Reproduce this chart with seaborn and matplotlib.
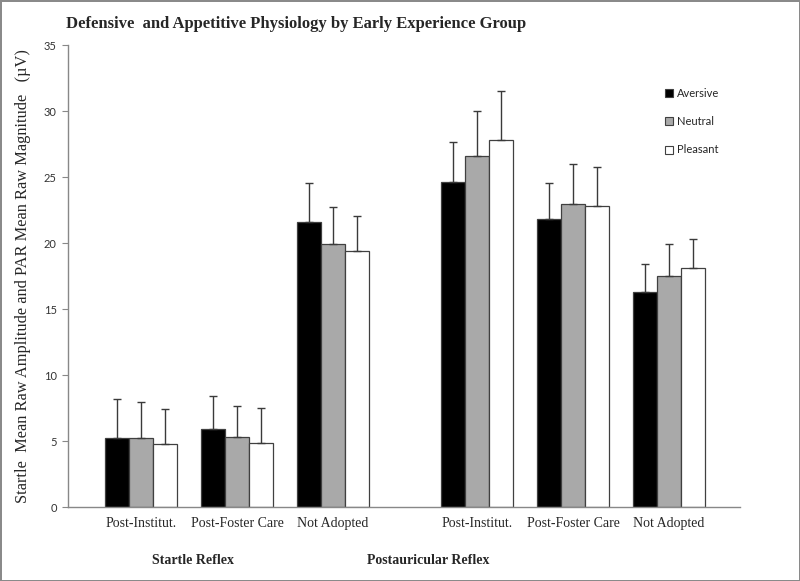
import numpy as np
import pandas as pd
import matplotlib
matplotlib.use('Agg')
import matplotlib.pyplot as plt
import seaborn as sns
from matplotlib.patches import Patch

# ---- data ----
groups = ['Post-Institut.', 'Post-Foster Care', 'Not Adopted',
          'Post-Institut.', 'Post-Foster Care', 'Not Adopted']
reflexes = ['Startle Reflex', 'Postauricular Reflex']
conditions = ['Aversive', 'Neutral', 'Pleasant']
aversive = [5.25, 5.9, 21.6, 24.6, 21.8, 16.3]
neutral = [5.2, 5.3, 19.95, 26.6, 22.95, 17.5]
pleasant = [4.75, 4.85, 19.4, 27.8, 22.8, 18.1]
aversive_err = [2.92, 2.53, 2.95, 3.06, 2.77, 2.1]
neutral_err = [2.75, 2.37, 2.8, 3.4, 3.07, 2.4]
pleasant_err = [2.67, 2.67, 2.67, 3.7, 2.93, 2.2]
y_ticks = [0, 5, 10, 15, 20, 25, 30, 35]

# ---- layout ----
group_pos = [0, 1, 2, 3.5, 4.5, 5.5]
colors = {'Aversive': '#000000', 'Neutral': '#a9a9a9', 'Pleasant': '#ffffff'}

values = {'Aversive': aversive, 'Neutral': neutral, 'Pleasant': pleasant}
errors = {'Aversive': aversive_err, 'Neutral': neutral_err, 'Pleasant': pleasant_err}
rows = []
for c in conditions:
    for i, p in enumerate(group_pos):
        rows.append({'pos': p, 'condition': c, 'value': values[c][i], 'err': errors[c][i]})
df = pd.DataFrame(rows)

sns.set_style('white')
fig = plt.figure(figsize=(8, 5.81), dpi=100)
fig.patch.set_edgecolor('#8a8a8a')
fig.patch.set_linewidth(2)
ax = fig.add_axes([68/800, 1-507/581, (740-68)/800, (507-45)/581])

sns.barplot(data=df, x='pos', y='value', hue='condition', hue_order=conditions,
            palette=colors, native_scale=True, width=0.75, errorbar=None,
            edgecolor='#404040', linewidth=0.9, legend=False, ax=ax)

# error bars (upper only) from drawn bars
bars = [p for p in ax.patches]
for c_idx, c in enumerate(conditions):
    for i in range(len(group_pos)):
        b = bars[c_idx*len(group_pos) + i]
        xc = b.get_x() + b.get_width()/2
        ax.errorbar([xc], [b.get_height()], yerr=[[0], [errors[c][i]]],
                    fmt='none', ecolor='#3a3a3a', elinewidth=1.0, capsize=3, capthick=1.0)

ax.set_xlim(-0.76, 6.24)
ax.set_ylim(0, 35)
ax.set_yticks(y_ticks)
ax.set_yticklabels([str(t) for t in y_ticks], family='Lato', fontsize=8, color='#333333')
ax.set_xticks(group_pos)
ax.set_xticklabels(groups, family='Liberation Serif', fontsize=10)
ax.tick_params(axis='x', length=0, pad=7)
ax.tick_params(axis='y', length=4, width=0.8, color='#888888', direction='out', left=True, pad=4)
ax.set_xlabel('')
ax.set_ylabel('Startle  Mean Raw Amplitude and PAR Mean Raw Magnitude   (\u00b5V)',
              family='Liberation Serif', fontsize=11.8, labelpad=9)
for s in ['top', 'right']:
    ax.spines[s].set_visible(False)
for s in ['left', 'bottom']:
    ax.spines[s].set_color('#888888')
    ax.spines[s].set_linewidth(1.0)

fig.text(66/800, 1-24/581, 'Defensive  and Appetitive Physiology by Early Experience Group',
         family='Liberation Serif', fontweight='bold', fontsize=12, ha='left', va='center')
fig.text(193/800, 1-560/581, reflexes[0], family='Liberation Serif', fontweight='bold',
         fontsize=10, ha='center', va='center')
fig.text(428/800, 1-560/581, reflexes[1], family='Liberation Serif', fontweight='bold',
         fontsize=10, ha='center', va='center')

handles = [Patch(facecolor=colors[c], edgecolor='#404040', linewidth=0.8, label=c) for c in conditions]
leg = fig.legend(handles=handles, loc='upper left', bbox_to_anchor=(655/800, 1-78/581),
                 frameon=False, prop={'family': 'Lato', 'size': 8},
                 handlelength=0.75, handleheight=0.75, handletextpad=0.3, labelspacing=1.55)

fig.savefig('out.png', dpi=100)
